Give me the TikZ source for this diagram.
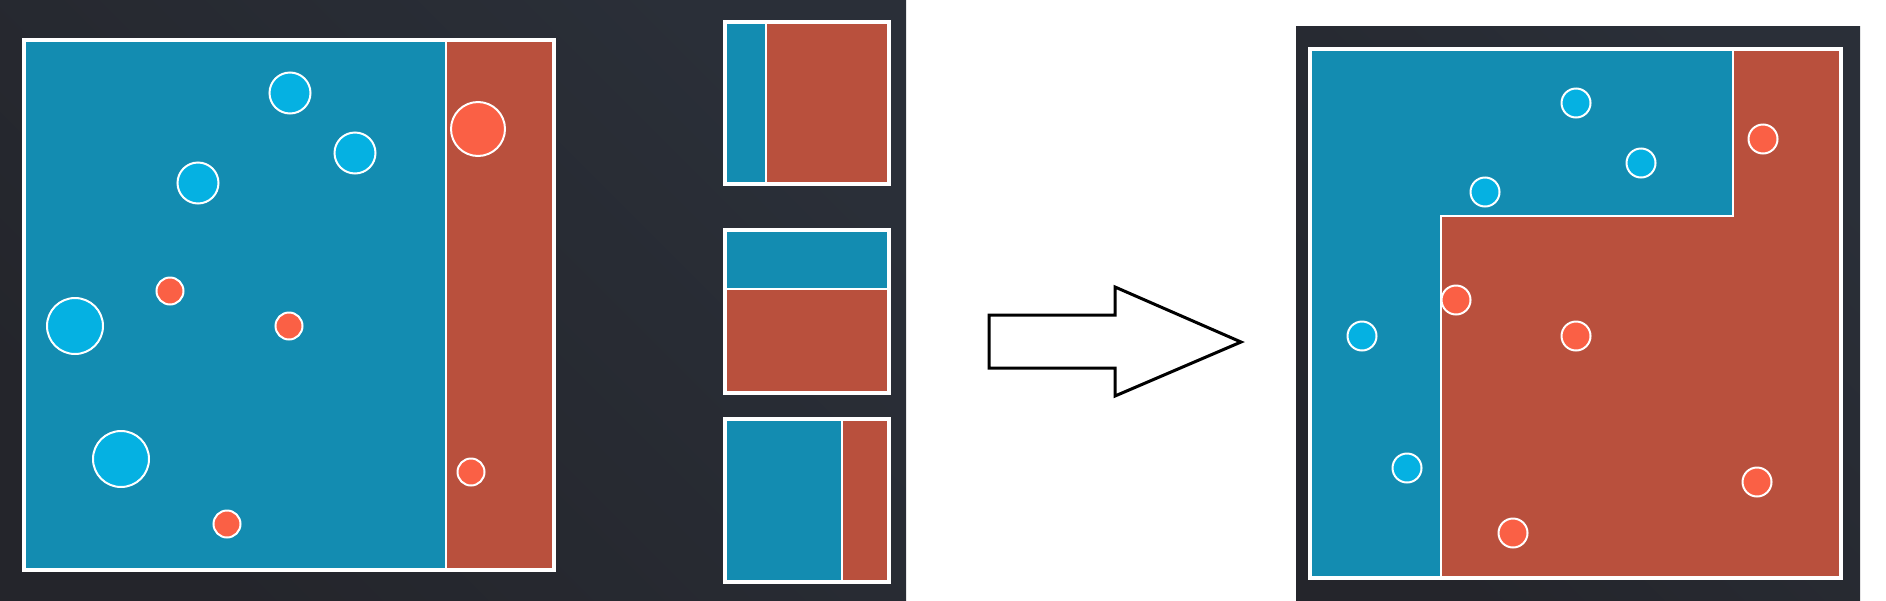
\documentclass[tikz,border=0pt]{standalone}
\usepackage{tikz}
\usepackage{xcolor}
\definecolor{panel-dark}{HTML}{2A2F38}
\definecolor{panel-corner}{HTML}{24252B}
\definecolor{region-blue}{HTML}{138CB1}
\definecolor{region-red}{HTML}{B9503D}
\definecolor{dot-blue}{HTML}{05B1E2}
\definecolor{dot-red}{HTML}{FA6045}
\tikzset{
    frame-line/.style = {draw=white, line width=3.5pt},
    split-line/.style = {draw=white, line width=2.5pt},
    blue-dot/.style = {circle, draw=white, fill=dot-blue, line width=2pt, inner sep=0pt, minimum size=#1},
    red-dot/.style = {circle, draw=white, fill=dot-red, line width=2pt, inner sep=0pt, minimum size=#1},
    big-arrow/.style = {draw=black, fill=white, line width=3pt, line join=miter},
}

\begin{document}
\begin{tikzpicture}[x=1pt, y=-1pt]
\useasboundingbox (0,0) rectangle (1886,600);

% left panel
\shade[left color=panel-corner, right color=panel-dark, shading angle=135] (0,0) rectangle (906,600);
\fill[region-blue] (24,40) rectangle (446,570);
\fill[region-red] (446,40) rectangle (554,570);
\draw[split-line] (446,40) -- (446,570);
\draw[frame-line] (24,40) rectangle (554,570);

\node[blue-dot=41pt] (b1) at (290,93) {};
\node[blue-dot=41pt] (b2) at (355,153) {};
\node[blue-dot=41pt] (b3) at (198,183) {};
\node[blue-dot=56pt] (b4) at (75,326) {};
\node[blue-dot=56pt] (b5) at (121,459) {};
\node[red-dot=54pt] (r1) at (478,129) {};
\node[red-dot=27pt] (r2) at (170,291) {};
\node[red-dot=27pt] (r3) at (289,326) {};
\node[red-dot=27pt] (r4) at (471,472) {};
\node[red-dot=27pt] (r5) at (227,524) {};

% small splits
\fill[region-blue] (725,22) rectangle (766,184);
\fill[region-red] (766,22) rectangle (889,184);
\draw[split-line] (766,22) -- (766,184);
\draw[frame-line] (725,22) rectangle (889,184);

\fill[region-blue] (725,230) rectangle (889,289);
\fill[region-red] (725,289) rectangle (889,393);
\draw[split-line] (725,289) -- (889,289);
\draw[frame-line] (725,230) rectangle (889,393);

\fill[region-blue] (725,419) rectangle (842,582);
\fill[region-red] (842,419) rectangle (889,582);
\draw[split-line] (842,419) -- (842,582);
\draw[frame-line] (725,419) rectangle (889,582);

% arrow
\draw[big-arrow] (989,315) -- (1115,315) -- (1115,287) -- (1241,342)
    -- (1115,396) -- (1115,368) -- (989,368) -- cycle;

% right panel
\shade[left color=panel-corner, right color=panel-dark, shading angle=135] (1296,26) rectangle (1860,600);
\fill[region-red] (1310,49) rectangle (1841,578);
\fill[region-blue] (1310,49) -- (1733,49) -- (1733,216) -- (1441,216) -- (1441,578) -- (1310,578) -- cycle;
\draw[split-line] (1441,578) -- (1441,216) -- (1733,216) -- (1733,49);
\draw[frame-line] (1310,49) rectangle (1841,578);

\node[blue-dot=29pt] (c1) at (1576,103) {};
\node[blue-dot=29pt] (c2) at (1641,163) {};
\node[blue-dot=29pt] (c3) at (1485,192) {};
\node[blue-dot=29pt] (c4) at (1362,336) {};
\node[blue-dot=29pt] (c5) at (1407,468) {};
\node[red-dot=29pt] (d1) at (1763,139) {};
\node[red-dot=29pt] (d2) at (1456,300) {};
\node[red-dot=29pt] (d3) at (1576,336) {};
\node[red-dot=29pt] (d4) at (1757,482) {};
\node[red-dot=29pt] (d5) at (1513,533) {};
\end{tikzpicture}
\end{document}
